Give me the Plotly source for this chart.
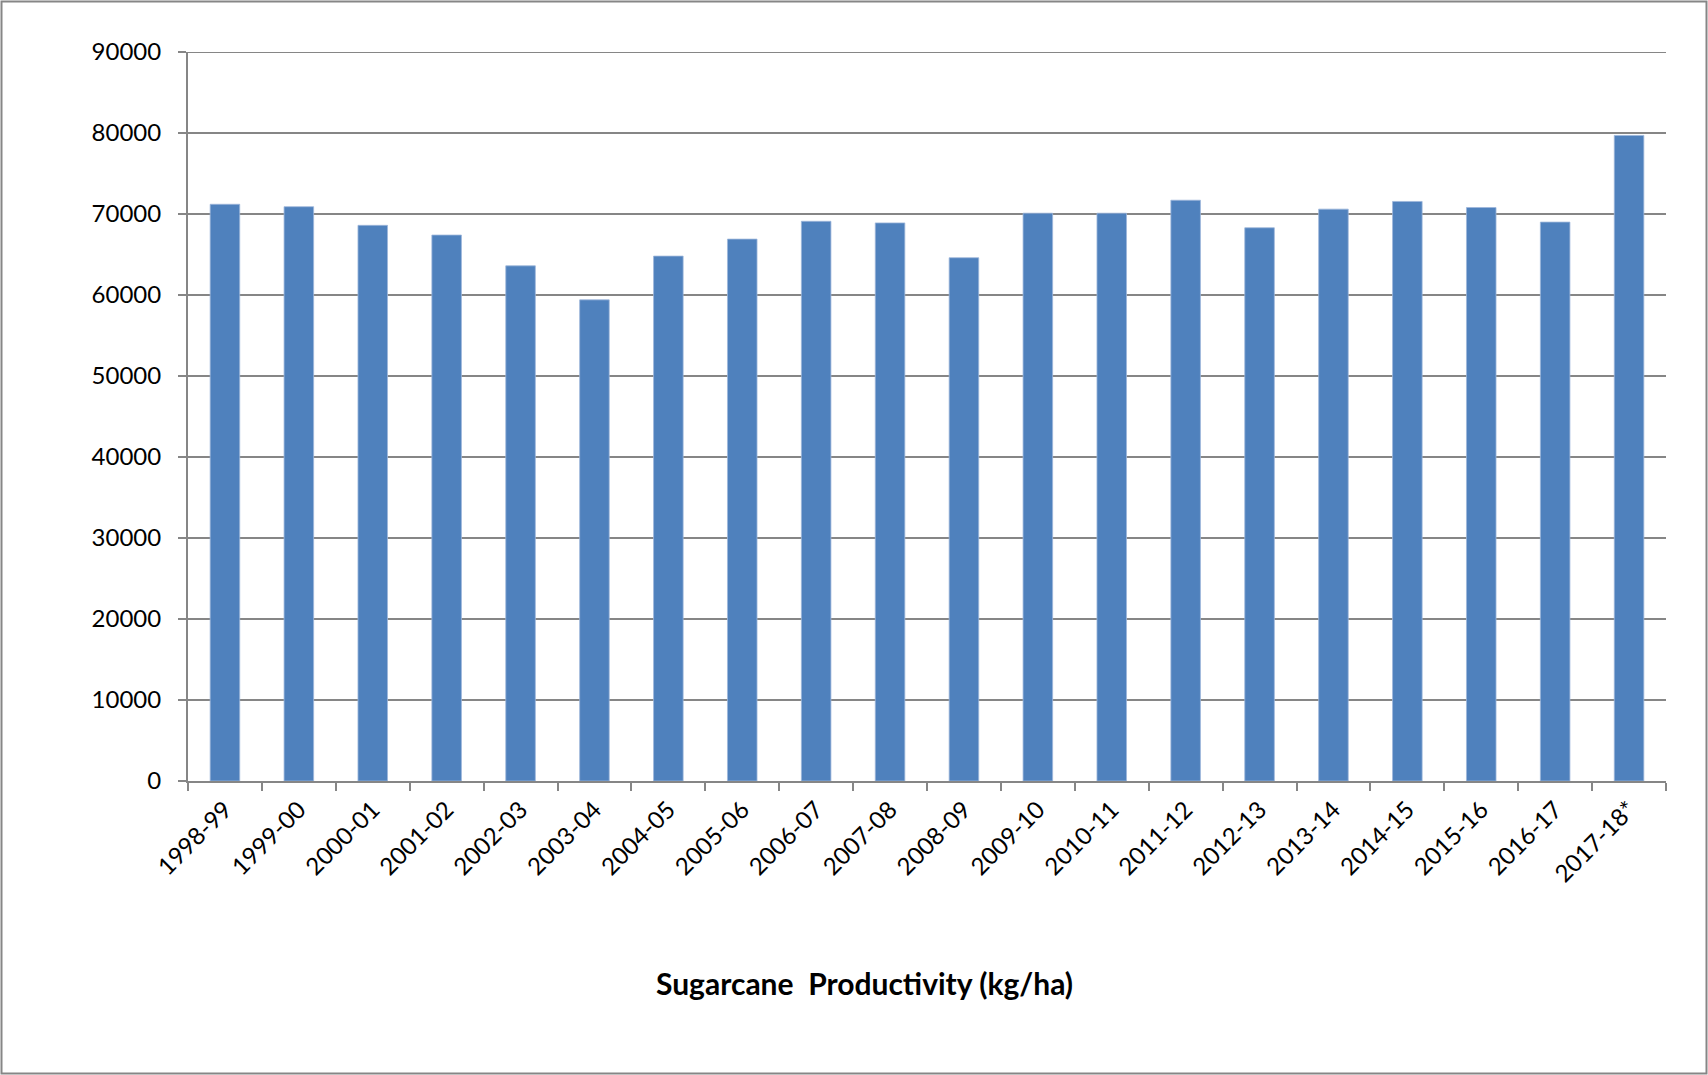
import plotly.graph_objects as go

years = ["1998-99", "1999-00", "2000-01", "2001-02", "2002-03", "2003-04", "2004-05",
         "2005-06", "2006-07", "2007-08", "2008-09", "2009-10", "2010-11", "2011-12",
         "2012-13", "2013-14", "2014-15", "2015-16", "2016-17", "2017-18*"]
productivity = [71200, 70900, 68600, 67400, 63600, 59400, 64800, 66900, 69100, 68900,
                64600, 70100, 70100, 71700, 68300, 70600, 71550, 70800, 69000, 79700]
y_ticks = list(range(0, 90001, 10000))
title_text = "Sugarcane  Productivity (kg/ha)"

W, H = 1708, 1075
L, R, T, B = 188, 1666, 52, 781
pw, ph = R - L, B - T

def px(x):
    return (x - L) / pw

def py(y):
    return (B - y) / ph

grid = "#868686"
font_family = "Lato, 'Open Sans', sans-serif"

fig = go.Figure(go.Bar(
    x=years, y=productivity,
    marker=dict(color="#4F81BD", line=dict(color="#9DB6DA", width=0.8)),
))

fig.update_layout(
    width=W, height=H,
    margin=dict(l=L, r=W - R, t=T, b=H - B, pad=0),
    paper_bgcolor="white", plot_bgcolor="white",
    bargap=0.6, showlegend=False,
    font=dict(family=font_family, size=24, color="black"),
    xaxis=dict(
        type="category", tickson="boundaries", ticks="outside", ticklen=8,
        tickcolor=grid, tickwidth=2, showline=True, linecolor=grid, linewidth=2,
        tickangle=-45, showgrid=False, tickfont=dict(size=24), ticklabelstandoff=3,
    ),
    yaxis=dict(
        range=[0, max(y_ticks)], tickvals=y_ticks, ticktext=[str(v) for v in y_ticks],
        ticks="outside", ticklen=8, tickcolor=grid, tickwidth=2,
        showline=True, linecolor=grid, linewidth=2,
        showgrid=True, gridcolor=grid, gridwidth=2, zeroline=False,
        ticklabelstandoff=12, tickfont=dict(size=24),
    ),
    shapes=[
        dict(type="line", xref="paper", yref="y", x0=0, x1=1, y0=max(y_ticks), y1=max(y_ticks),
             line=dict(color=grid, width=2), layer="below"),
        dict(type="rect", xref="paper", yref="paper",
             x0=px(1.5), x1=px(1706.5), y0=py(1073.5), y1=py(1.5),
             line=dict(color=grid, width=2), fillcolor="rgba(0,0,0,0)", layer="above"),
    ],
    annotations=[dict(text="<b>" + title_text + "</b>", xref="paper", yref="paper",
                      x=px(864), y=py(983), xanchor="center", yanchor="middle",
                      showarrow=False, font=dict(size=30, family=font_family, color="black"))],
)

fig.write_html("out.html", config={"displayModeBar": False},
               post_script="document.body.style.margin='0px';document.body.style.overflow='hidden';")
